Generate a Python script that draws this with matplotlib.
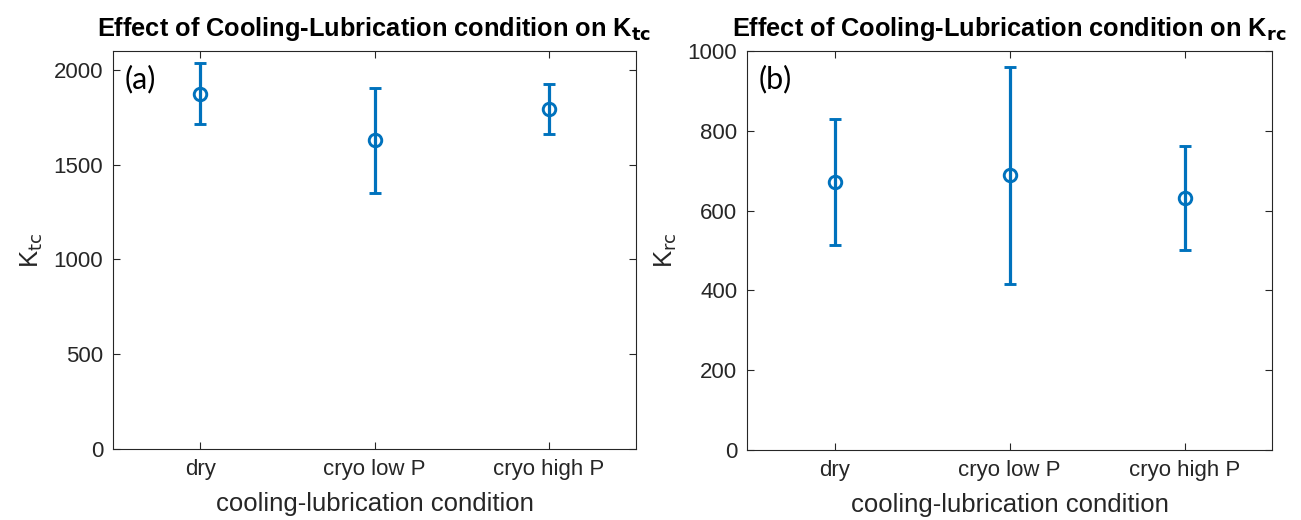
import matplotlib
matplotlib.use("Agg")
import matplotlib.pyplot as plt
from matplotlib.ticker import MultipleLocator

categories = ["dry", "cryo low P", "cryo high P"]
ktc_mean = [1875, 1628, 1795]
ktc_err = [160, 275, 133]
krc_mean = [672, 689, 632]
krc_err = [158, 272, 130]

blue = "#0072BD"
axcol = "#262626"
tickfont = ["Liberation Sans", "DejaVu Sans"]
titlefont = ["Liberation Sans", "DejaVu Sans"]

fig = plt.figure(figsize=(13.01, 5.2), dpi=100)
W, H = 1301, 520

def make_ax(x0, x1, y0, y1):
    return fig.add_axes([x0 / W, 1 - y1 / H, (x1 - x0) / W, (y1 - y0) / H])

axes = [make_ax(113, 636, 51, 449), make_ax(747, 1272, 51, 450)]
means = [ktc_mean, krc_mean]
errs = [ktc_err, krc_err]
ylims = [(0, 2100), (0, 1000)]
ysteps = [500, 200]
titles = [r"Effect of Cooling-Lubrication condition on K$_{\mathbf{tc}}$",
          r"Effect of Cooling-Lubrication condition on K$_{\mathbf{rc}}$"]
ylabels = [r"K$_{\mathrm{tc}}$", r"K$_{\mathrm{rc}}$"]
panel = ["(a)", "(b)"]

plt.rcParams["mathtext.fontset"] = "custom"
plt.rcParams["mathtext.rm"] = "Liberation Sans"
plt.rcParams["mathtext.bf"] = "Liberation Sans:bold"

xs = list(range(1, len(categories) + 1))
for ax, m, e, yl, ys, t, ylab, p in zip(axes, means, errs, ylims, ysteps, titles, ylabels, panel):
    ax.errorbar(xs, m, yerr=e, fmt="o", color=blue, ecolor=blue, elinewidth=2.3,
                capsize=4.5, capthick=2.3, markersize=9, markerfacecolor="none",
                markeredgewidth=2.1)
    ax.set_xlim(0.5, 3.5)
    ax.set_ylim(*yl)
    ax.yaxis.set_major_locator(MultipleLocator(ys))
    ax.set_xticks(xs)
    ax.set_xticklabels(categories)
    ax.tick_params(direction="in", top=True, right=True, length=5, width=0.8,
                   colors=axcol, labelsize=16, pad=7)
    for lbl in ax.get_xticklabels() + ax.get_yticklabels():
        lbl.set_fontfamily(tickfont)
        lbl.set_color(axcol)
    for s in ax.spines.values():
        s.set_color(axcol)
        s.set_linewidth(0.8)
    ax.set_xlabel("cooling-lubrication condition", fontsize=18.5, family=tickfont,
                  color=axcol, labelpad=9)
    ax.set_ylabel(ylab, fontsize=18.5, family=tickfont, color=axcol, labelpad=6)
    ax.set_title(t, fontsize=18.3, fontweight="bold", family=titlefont, pad=11)
    ax.text(0.022, 0.965, p, transform=ax.transAxes, fontsize=22, family=["Lato", "DejaVu Sans"],
            va="top", ha="left", color="black")

fig.savefig("out.png", dpi=100)
